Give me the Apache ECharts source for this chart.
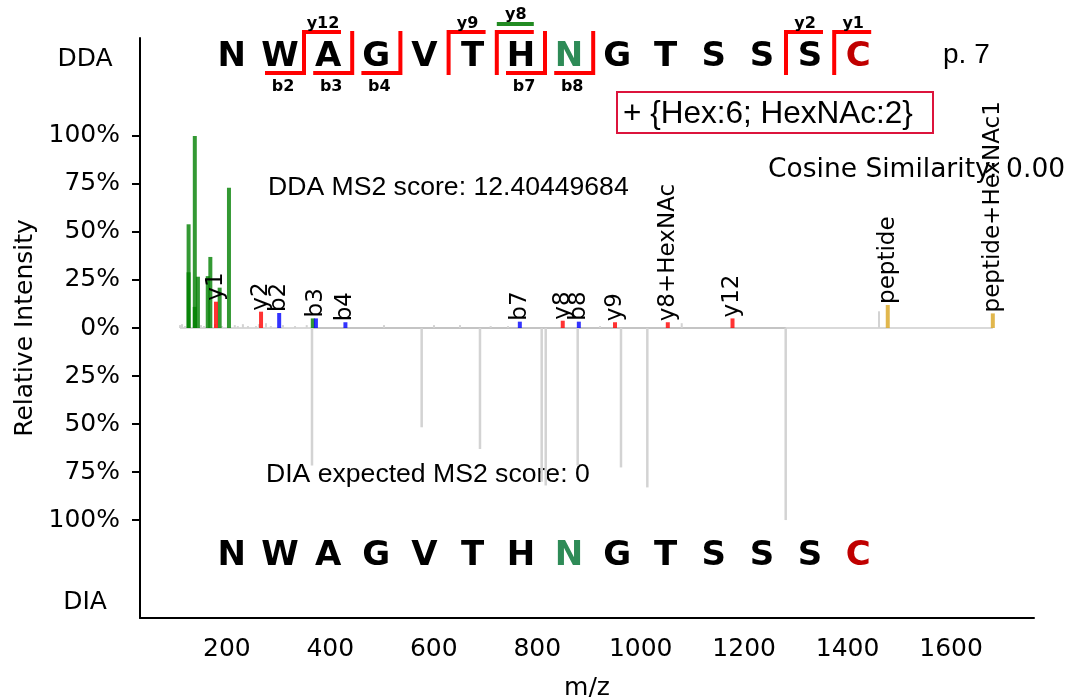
<!DOCTYPE html>
<html><head><meta charset="utf-8">
<script src="https://cdn.jsdelivr.net/npm/echarts@6/dist/echarts.min.js"></script>
<style>html,body{margin:0;padding:0;background:#fff}#c{width:1070px;height:697px}</style>
</head><body><div id="c"></div>
<script>
// ---------------- data ----------------
const sequence = ['N','W','A','G','V','T','H','N','G','T','S','S','S','C'];
const glycoSite = 7;      // index of glycosylated N
const modSite = 13;       // index of modified C
const bIons = [2, 3, 4, 7, 8];
const yIons = [12, 9, 8, 2, 1];
const glycoYIons = [8];
const glycanText = '+ {Hex:6; HexNAc:2}';
const pageText = 'p. 7';
const ddaScoreText = 'DDA MS2 score: 12.40449684';
const diaScoreText = 'DIA expected MS2 score: 0';
const cosineText = 'Cosine Similarity: 0.00';
const topLabel = 'DDA';
const bottomLabel = 'DIA';

const xTicks = [200, 400, 600, 800, 1000, 1200, 1400, 1600];
const yTicks = [-100, -75, -50, -25, 0, 25, 50, 75, 100];

// DDA unmatched (grey) peaks
const ddaGreyMz  = [109.4, 113.3, 119.0, 150.0, 155.8, 177.0, 190.6, 215.4, 221.2, 231.0, 240.8, 256.3, 262.0, 275.7, 285.0, 308.5, 331.8, 354.4, 503.8, 600.4, 650.7, 710.0, 743.5, 921.4, 1079.3, 1460.7];
const ddaGreyInt = [1.5,   2.0,   1.0,   1.5,   1.0,   2.0,   1.0,   1.5,   1.0,   2.0,   1.0,   1.0,   2.0,   2.5,   1.0,   1.5,   1.0,   1.5,   1.5,   1.5,   1.5,   1.0,   1.0,   1.0,   2.5,    8.7];

// oxonium ions (green)
const oxoMz  = [126.05, 138.05, 144.07, 163.06, 168.07, 186.08, 204.09, 366.14];
const oxoInt = [54, 100, 26.7, 27, 37, 21, 73, 5];
const oxoRepeatMz  = [126.05, 138.05];
const oxoRepeatInt = [29, 11];

// b ions (blue)
const bMz    = [301.13, 372.17, 429.19, 766.36, 880.41];
const bInt   = [7.8, 5.0, 3.0, 3.3, 3.3];
const bNames = ['b2', 'b3', 'b4', 'b7', 'b8'];

// y ions (red)
const yMz    = [179.05, 266.08, 849.32, 950.36, 1052.40, 1177.49];
const yInt   = [13.7, 8.5, 3.8, 3.0, 3.0, 5.0];
const yNames = ['y1', 'y2', 'y8', 'y9', 'y8+HexNAc', 'y12'];

// precursor ions (gold)
const precMz    = [1477.6, 1680.69];
const precInt   = [12.0, 7.6];
const precNames = ['peptide', 'peptide+HexNAc1'];

// DIA expected spectrum (drawn downward)
const diaMz  = [364.6, 576.6, 689.3, 808.6, 816.4, 878.2, 961.9, 1012.8, 1280.3];
const diaInt = [71.6, 51.7, 63, 80, 82, 71.6, 72.6, 83, 100];

// ---------------- chart ----------------
const DV = '"DejaVu Sans"';
const LS = '"Liberation Sans", Arial';

function stems(mz, inten, names, color, width, opacity, z, sign) {
  return {
    type: 'custom', z: z, silent: true, clip: false,
    data: mz.map((m, i) => [m, sign * inten[i]]),
    encode: { x: 0, y: 1 },
    renderItem(params, api) {
      const x = api.value(0), y = api.value(1);
      const p0 = api.coord([x, 0]), p1 = api.coord([x, y]);
      const children = [{
        type: 'line',
        shape: { x1: p0[0], y1: p0[1], x2: p1[0], y2: p1[1] },
        style: { stroke: color, lineWidth: width, opacity: opacity }
      }];
      const lab = names ? names[params.dataIndex] : '';
      if (lab) {
        children.push({
          type: 'text', x: p1[0], y: p1[1] - 1, rotation: Math.PI / 2,
          style: { text: lab, font: '23px ' + DV, fill: '#000', textAlign: 'left', textVerticalAlign: 'middle' }
        });
      }
      return { type: 'group', children };
    }
  };
}

function baseline(mz, z) {
  return {
    type: 'line', z: z, silent: true, symbol: 'none',
    data: [[Math.min(...mz), 0], [Math.max(...mz), 0]],
    lineStyle: { color: 'rgba(170,170,170,0.45)', width: 2 }
  };
}

const ddaAll = ddaGreyMz.concat(oxoMz, bMz, yMz, precMz);

// sequence graphics
const X0 = 231.7, STEP = 48.2, TOPY = 57, BOTY = 556;
const graphics = [];
sequence.forEach((aa, i) => {
  const fill = i === glycoSite ? '#2e8b57' : (i === modSite ? '#c00000' : '#000');
  [TOPY, BOTY].forEach(yy => graphics.push({
    type: 'text', x: X0 + STEP * i, y: yy,
    style: { text: aa, font: 'bold 34px ' + DV, fill, textAlign: 'center', textVerticalAlign: 'middle' }
  }));
});
bIons.forEach(n => {
  const xc = X0 + STEP * (n - 0.5);
  graphics.push({ type: 'polyline', shape: { points: [[xc - 39, 73], [xc, 73], [xc, 31]] },
    style: { stroke: '#ff0000', lineWidth: 4, fill: null } });
  graphics.push({ type: 'text', x: xc - 21, y: 87,
    style: { text: 'b' + n, font: 'bold 16px ' + DV, fill: '#000', textAlign: 'center', textVerticalAlign: 'middle' } });
});
yIons.forEach(n => {
  const xc = X0 + STEP * (sequence.length - n - 0.5);
  const glyco = glycoYIons.indexOf(n) >= 0;
  graphics.push({ type: 'polyline', shape: { points: [[xc, 75], [xc, 32], [xc + 37, 32]] },
    style: { stroke: '#ff0000', lineWidth: 4, fill: null } });
  if (glyco) {
    graphics.push({ type: 'line', shape: { x1: xc, y1: 24, x2: xc + 37, y2: 24 },
      style: { stroke: '#228b22', lineWidth: 4 } });
  }
  graphics.push({ type: 'text', x: xc + 19, y: glyco ? 15 : 24,
    style: { text: 'y' + n, font: 'bold 16px ' + DV, fill: '#000', textAlign: 'center', textVerticalAlign: 'middle' } });
});
graphics.push({ type: 'rect', shape: { x: 617, y: 92, width: 316, height: 41 },
  style: { stroke: '#dc143c', lineWidth: 2, fill: '#fff' } });
graphics.push({ type: 'text', x: 623, y: 114,
  style: { text: glycanText, font: '31.5px ' + LS, fill: '#000', textAlign: 'left', textVerticalAlign: 'middle' } });
graphics.push({ type: 'text', x: 943, y: 55,
  style: { text: pageText, font: '28px ' + LS, fill: '#000', textAlign: 'left', textVerticalAlign: 'middle' } });
graphics.push({ type: 'text', x: 268, y: 188,
  style: { text: ddaScoreText, font: '26.6px ' + LS, fill: '#000', textAlign: 'left', textVerticalAlign: 'middle' } });
graphics.push({ type: 'text', x: 266, y: 475,
  style: { text: diaScoreText, font: '26.6px ' + LS, fill: '#000', textAlign: 'left', textVerticalAlign: 'middle' } });
graphics.push({ type: 'text', x: 768, y: 170, z: 0,
  style: { text: cosineText, font: '26.5px ' + DV, fill: '#000', textAlign: 'left', textVerticalAlign: 'middle' } });
graphics.push({ type: 'text', x: 85, y: 59,
  style: { text: topLabel, font: '25px ' + DV, fill: '#000', textAlign: 'center', textVerticalAlign: 'middle' } });
graphics.push({ type: 'text', x: 85, y: 602,
  style: { text: bottomLabel, font: '25px ' + DV, fill: '#000', textAlign: 'center', textVerticalAlign: 'middle' } });

const chart = echarts.init(document.getElementById('c'), null, { renderer: 'canvas' });
chart.setOption({
  animation: false,
  backgroundColor: '#fff',
  grid: { left: 140, right: 36, top: 38, bottom: 79, containLabel: false, outerBoundsMode: 'none' },
  xAxis: {
    type: 'value', min: 32.1, max: 1760.3,
    axisLine: { show: true, onZero: false, lineStyle: { color: '#000', width: 2 } },
    axisTick: { show: false }, splitLine: { show: false }, minorTick: { show: false },
    axisLabel: { customValues: xTicks, formatter: v => String(v), fontSize: 25, fontFamily: 'DejaVu Sans', color: '#000', margin: 19 },
    name: 'm/z', nameLocation: 'middle', nameGap: 58,
    nameTextStyle: { fontSize: 25, fontFamily: 'DejaVu Sans', color: '#000' }
  },
  yAxis: {
    type: 'value', min: -151, max: 151,
    axisLine: { show: true, onZero: false, lineStyle: { color: '#000', width: 2 } },
    axisTick: { show: true, customValues: yTicks, length: 8, lineStyle: { color: '#000', width: 2 } },
    axisLabel: { customValues: yTicks, formatter: v => Math.abs(v) + '%', fontSize: 25, fontFamily: 'DejaVu Sans', color: '#000', margin: 20 },
    splitLine: { show: false },
    name: 'Relative Intensity', nameLocation: 'middle', nameGap: 96, nameRotate: 90,
    nameTextStyle: { fontSize: 25, fontFamily: 'DejaVu Sans', color: '#000' }
  },
  series: [
    baseline(ddaAll, 1),
    baseline(diaMz, 1),
    stems(ddaGreyMz, ddaGreyInt, null, '#d3d3d3', 2, 1, 2, 1),
    stems(diaMz, diaInt, null, '#d3d3d3', 2.5, 1, 2, -1),
    stems(oxoMz, oxoInt, null, '#008000', 4, 0.8, 3, 1),
    stems(oxoRepeatMz, oxoRepeatInt, null, '#008000', 4, 0.8, 3, 1),
    stems(bMz, bInt, bNames, '#0000ff', 4, 0.8, 4, 1),
    stems(yMz, yInt, yNames, '#ff0000', 4, 0.8, 4, 1),
    stems(precMz, precInt, precNames, '#daa520', 4, 0.8, 4, 1)
  ],
  graphic: graphics
});
</script>
</body></html>
